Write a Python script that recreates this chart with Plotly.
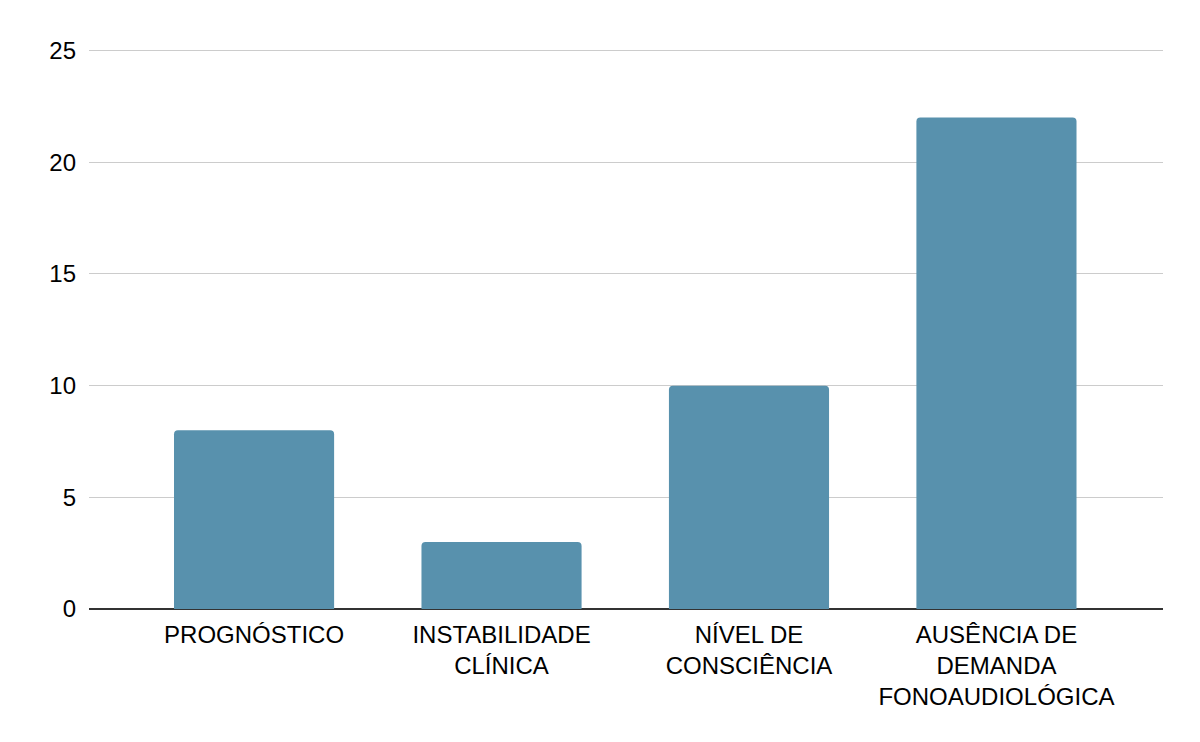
import plotly.graph_objects as go

categories = ["PROGNÓSTICO", "INSTABILIDADE<br>CLÍNICA", "NÍVEL DE<br>CONSCIÊNCIA",
              "AUSÊNCIA DE<br>DEMANDA<br>FONOAUDIOLÓGICA"]
values = [8, 3, 10, 22]
y_ticks = [0, 5, 10, 15, 20, 25]

fig = go.Figure(go.Bar(
    x=list(range(len(categories))),
    y=values,
    width=0.647,
    marker=dict(color="#5891AD", line=dict(width=0), cornerradius=4),
    hoverinfo="skip",
))

fig.update_layout(
    width=1192, height=734,
    margin=dict(l=81, r=37, t=41, b=133),
    paper_bgcolor="white", plot_bgcolor="white",
    font=dict(family="Liberation Sans, Arial, sans-serif", size=24, color="#000000"),
    showlegend=False,
    xaxis=dict(
        range=[-0.667, 3.673],
        tickmode="array",
        tickvals=list(range(len(categories))),
        ticktext=categories,
        showgrid=False, zeroline=False, showline=False,
        ticks="", ticklabelstandoff=9,
    ),
    yaxis=dict(
        range=[0, 25.07],
        tickmode="array",
        tickvals=y_ticks,
        ticktext=[str(v) for v in y_ticks],
        showgrid=True, gridcolor="#cccccc", gridwidth=1,
        zeroline=True, zerolinecolor="#333333", zerolinewidth=2,
        showline=False, ticks="", ticklabelstandoff=12,
    ),
)

fig.write_html("out.html")
